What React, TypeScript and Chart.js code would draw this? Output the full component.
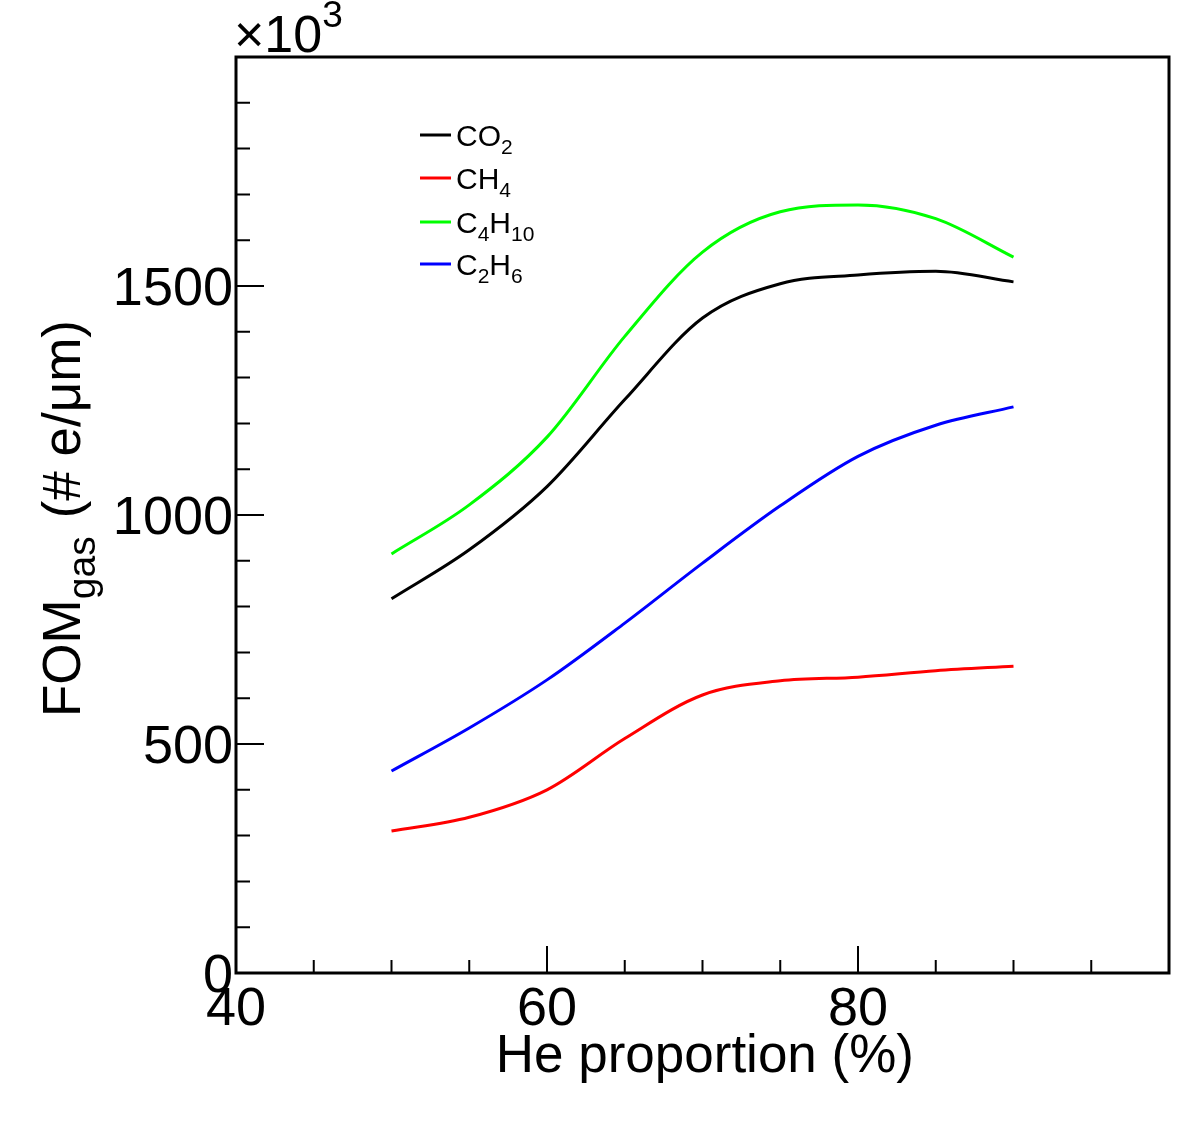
import React, { useEffect, useRef } from "react";
import { Chart, registerables } from "chart.js";

Chart.register(...registerables);

// He proportion (%) at which each gas mixture was evaluated
const heProportion = [50, 55, 60, 65, 70, 75, 80, 85, 90];

// FOM_gas values (×10^3 electrons per µm)
const co2Values = [817, 924, 1062, 1252, 1430, 1505, 1524, 1532, 1509];
const ch4Values = [310, 340, 400, 512, 607, 638, 646, 660, 670];
const c4h10Values = [915, 1022, 1170, 1390, 1574, 1662, 1677, 1647, 1563];
const c2h6Values = [441, 535, 640, 764, 895, 1020, 1128, 1196, 1236];

// Legend names; "_" marks a subscript run
const seriesNames = ["CO_{2}", "CH_{4}", "C_{4}H_{10}", "C_{2}H_{6}"];
const seriesColors = ["#000000", "#ff0000", "#00ff00", "#0000ff"];

// Axis ranges and tick positions
const xRange = [40, 100];
const yRange = [0, 2000];
const xMajorTicks = [40, 60, 80, 100];
const xMinorTicks = [45, 50, 55, 65, 70, 75, 85, 90, 95];
const xTickLabels = ["40", "60", "80"];
const yMajorTicks = [0, 500, 1000, 1500, 2000];
const yTickLabels = ["0", "500", "1000", "1500"];
const yMinorStep = 100;

const FONT = '"Liberation Sans", Arial, Helvetica, sans-serif';

type Seg = { text: string; sub?: boolean; sup?: boolean };

function parseRich(s: string): Seg[] {
  const out: Seg[] = [];
  const re = /_\{([^}]*)\}|\^\{([^}]*)\}|([^_^]+)/g;
  let m: RegExpExecArray | null;
  while ((m = re.exec(s))) {
    if (m[1] !== undefined) out.push({ text: m[1], sub: true });
    else if (m[2] !== undefined) out.push({ text: m[2], sup: true });
    else out.push({ text: m[3] });
  }
  return out;
}

function drawRich(
  ctx: CanvasRenderingContext2D,
  segs: Seg[],
  x: number,
  y: number,
  size: number,
  smallSize: number,
  subDy: number,
  supDy: number,
  gapAfterSub = 0
) {
  let cx = x;
  segs.forEach((s) => {
    const fs = s.sub || s.sup ? smallSize : size;
    ctx.font = `${fs}px ${FONT}`;
    const dy = s.sub ? subDy : s.sup ? supDy : 0;
    ctx.fillText(s.text, cx, y + dy);
    cx += ctx.measureText(s.text).width;
    if (s.sub) cx += gapAfterSub;
  });
  return cx;
}

const rootFramePlugin = {
  id: "rootFrame",
  afterDraw(chart: any) {
    const { ctx, chartArea } = chart;
    const xs = chart.scales.x;
    const ys = chart.scales.y;
    const { left, right, top, bottom } = chartArea;
    ctx.save();
    ctx.strokeStyle = "#000";
    ctx.fillStyle = "#000";

    // frame
    ctx.lineWidth = 3;
    ctx.strokeRect(left, top, right - left, bottom - top);

    // x ticks (inward, bottom axis)
    ctx.lineWidth = 2;
    ctx.beginPath();
    xMajorTicks.forEach((v) => {
      const px = xs.getPixelForValue(v);
      ctx.moveTo(px, bottom);
      ctx.lineTo(px, bottom - 27);
    });
    xMinorTicks.forEach((v) => {
      const px = xs.getPixelForValue(v);
      ctx.moveTo(px, bottom);
      ctx.lineTo(px, bottom - 13);
    });
    // y ticks (inward, left axis)
    for (let v = yRange[0]; v <= yRange[1]; v += yMinorStep) {
      const py = ys.getPixelForValue(v);
      const major = yMajorTicks.includes(v);
      ctx.moveTo(left, py);
      ctx.lineTo(left + (major ? 28 : 14), py);
    }
    ctx.stroke();

    // tick labels
    const labelSize = 54;
    ctx.font = `${labelSize}px ${FONT}`;
    ctx.textBaseline = "alphabetic";
    ctx.textAlign = "center";
    xTickLabels.forEach((t) => {
      const px = xs.getPixelForValue(Number(t));
      ctx.fillText(t, px, bottom + 52);
    });
    ctx.textAlign = "right";
    yTickLabels.forEach((t) => {
      const py = ys.getPixelForValue(Number(t));
      ctx.fillText(t, left - 3, py + labelSize * 0.358);
    });

    // x axis title
    ctx.textAlign = "right";
    ctx.font = `53px ${FONT}`;
    ctx.fillText("He proportion (%)", right - 255, bottom + 99);

    // axis exponent
    ctx.textAlign = "left";
    drawRich(ctx, parseRich("×10^{3}"), left - 2, top - 5, 52, 37, 0, -25);

    // y axis title, rotated
    ctx.save();
    ctx.translate(80, 717);
    ctx.rotate(-Math.PI / 2);
    ctx.textAlign = "left";
    drawRich(ctx, parseRich("FOM_{gas}(# e/μm)"), 0, 0, 53, 39, 15, 0, 18);
    ctx.restore();

    // legend
    const rowY = [135, 178, 222, 264];
    seriesNames.forEach((name, i) => {
      const y = rowY[i];
      ctx.strokeStyle = seriesColors[i];
      ctx.lineWidth = 3;
      ctx.beginPath();
      ctx.moveTo(420, y);
      ctx.lineTo(451, y);
      ctx.stroke();
      ctx.fillStyle = "#000";
      drawRich(ctx, parseRich(name), 456, y + 11, 30, 21, 8, 0);
    });

    ctx.restore();
  },
};

export default function App() {
  const canvasRef = useRef<HTMLCanvasElement | null>(null);

  useEffect(() => {
    const canvas = canvasRef.current;
    if (!canvas) return;
    const series = [co2Values, ch4Values, c4h10Values, c2h6Values];
    const chart = new Chart(canvas, {
      type: "line",
      data: {
        datasets: series.map((vals, i) => ({
          label: seriesNames[i],
          data: vals.map((v, j) => ({ x: heProportion[j], y: v })),
          borderColor: seriesColors[i],
          backgroundColor: seriesColors[i],
          borderWidth: 3,
          pointRadius: 0,
          cubicInterpolationMode: "monotone" as const,
          fill: false,
        })),
      },
      options: {
        animation: false,
        responsive: false,
        devicePixelRatio: 1,
        layout: { padding: { left: 236, right: 13, top: 57, bottom: 173 } },
        plugins: { legend: { display: false }, tooltip: { enabled: false } },
        scales: {
          x: { type: "linear", min: xRange[0], max: xRange[1], display: false },
          y: { type: "linear", min: yRange[0], max: yRange[1], display: false },
        },
      },
      plugins: [rootFramePlugin],
    });
    return () => chart.destroy();
  }, []);

  return (
    <div style={{ position: "absolute", left: 0, top: 0, width: 1182, height: 1146, background: "#fff" }}>
      <canvas ref={canvasRef} width={1182} height={1146} />
    </div>
  );
}
